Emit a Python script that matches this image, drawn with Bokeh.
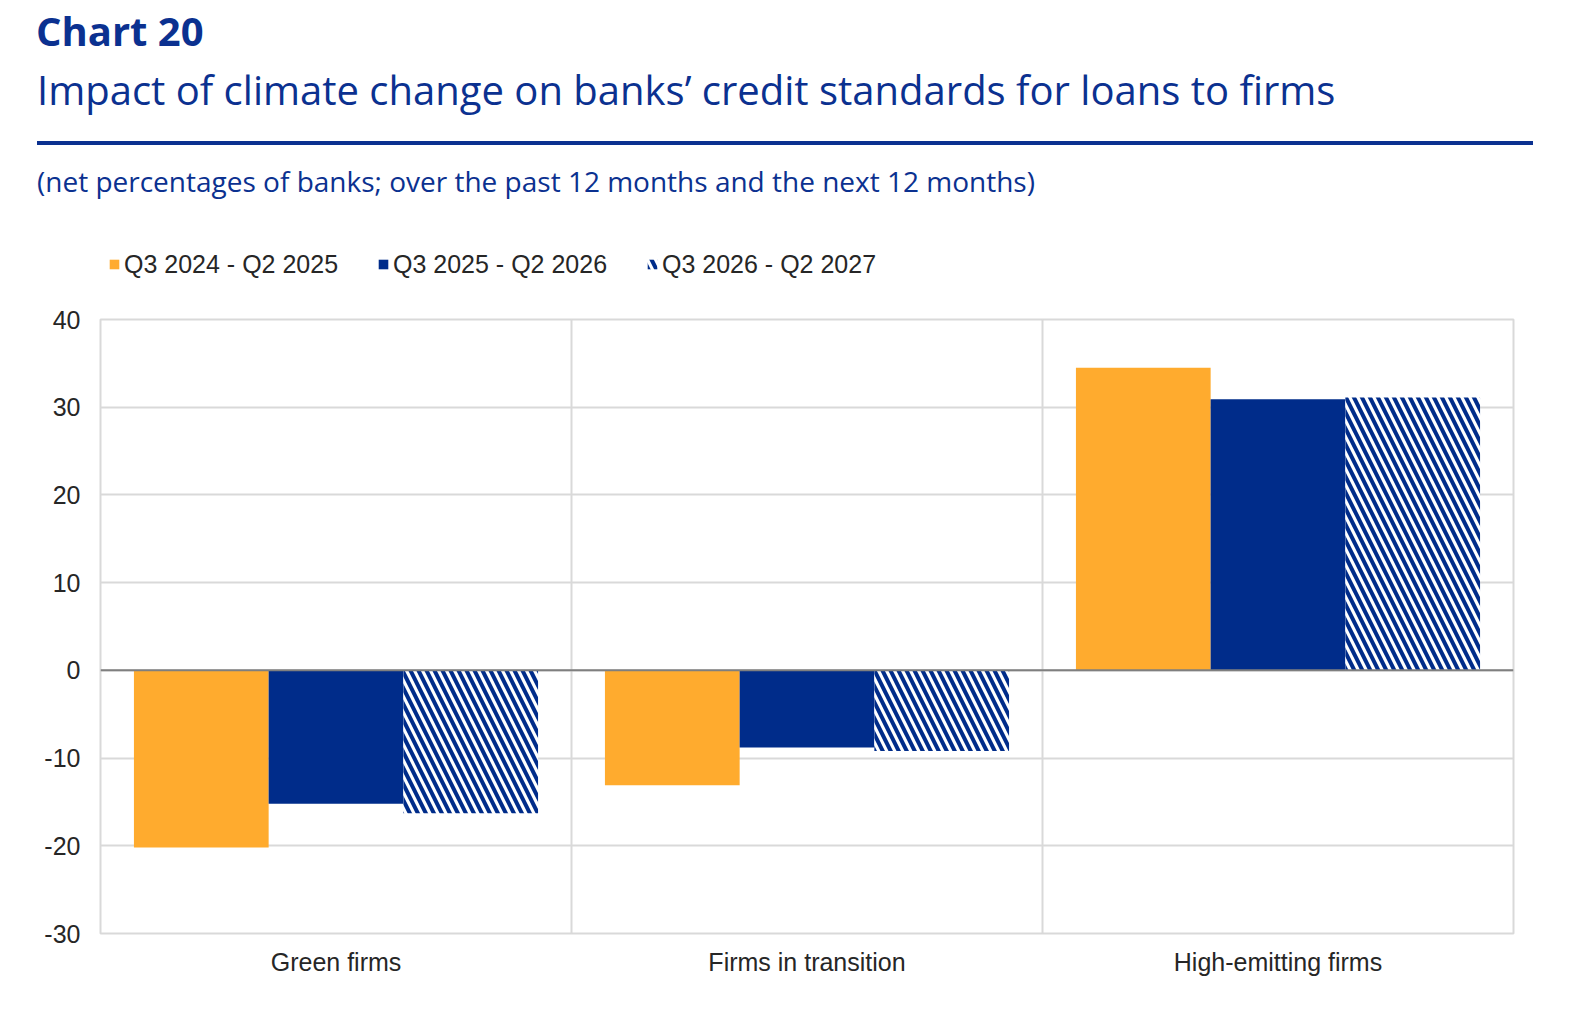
from bokeh.plotting import figure
from bokeh.models import (ColumnDataSource, Span, Legend, LegendItem,
                          FixedTicker, Div, Range1d, PrintfTickFormatter)
from bokeh.transform import dodge
from bokeh.layouts import column
from bokeh.embed import file_html
from bokeh.resources import INLINE

categories = ["Green firms", "Firms in transition", "High-emitting firms"]
series_names = ["Q3 2024 - Q2 2025", "Q3 2025 - Q2 2026", "Q3 2026 - Q2 2027"]
s2024 = [-20.2, -13.1, 34.5]
s2025 = [-15.2, -8.8, 30.9]
s2026 = [-16.3, -9.2, 31.1]
y_ticks = [-30, -20, -10, 0, 10, 20, 30, 40]

ORANGE = "#FFAB2E"
BLUE = "#002C8A"
TEXT_BLUE = "#0B3190"
GRID = "#D9D9D9"
LABEL = "#262626"
HATCH = dict(hatch_pattern="\\", hatch_color=BLUE, hatch_scale=16, hatch_weight=4)

idx = list(range(len(categories)))
src = ColumnDataSource(dict(idx=idx, cat=categories, a=s2024, b=s2025, c=s2026))

# ---- header (title, subtitle, rule, unit note)
HEADER_H = 201
header = Div(width=1554, height=HEADER_H, text=f"""
<div style="position:relative;width:1554px;height:{HEADER_H}px;font-family:'Open Sans';color:{TEXT_BLUE};">
  <div style="position:absolute;left:31px;top:6px;font-size:40px;font-weight:bold;line-height:1;white-space:nowrap;">Chart 20</div>
  <div style="position:absolute;left:32px;top:65px;font-size:40px;line-height:1;white-space:nowrap;">Impact of climate change on banks’ credit standards for loans to firms</div>
  <div style="position:absolute;left:32px;top:136px;width:1496px;height:4px;background:{TEXT_BLUE};"></div>
  <div style="position:absolute;left:32px;top:162px;font-size:28px;line-height:1;white-space:nowrap;">(net percentages of banks; over the past 12 months and the next 12 months)</div>
</div>
""")

# ---- legend strip (proxy glyphs with no visible data, used only for the legend icons)
LEG_H = 80
lf = figure(width=1554, height=LEG_H, x_range=Range1d(0, 1), y_range=Range1d(0, 1),
            x_axis_type=None, y_axis_type=None, output_backend="svg", toolbar_location=None,
            min_border=0, outline_line_color=None)
proxy = ColumnDataSource(dict(x=[float("nan")], top=[float("nan")]))
l1 = lf.vbar(x="x", top="top", width=0.1, source=proxy, fill_color=ORANGE, line_color=None)
l2 = lf.vbar(x="x", top="top", width=0.1, source=proxy, fill_color=BLUE, line_color=None)
l3 = lf.vbar(x="x", top="top", width=0.1, source=proxy, fill_color="white", line_color=None, **HATCH)
legend = Legend(items=[LegendItem(label=series_names[0], renderers=[l1]),
                       LegendItem(label=series_names[1], renderers=[l2]),
                       LegendItem(label=series_names[2], renderers=[l3])],
                orientation="horizontal", location=(8, 12),
                glyph_width=12, glyph_height=12, label_standoff=4, spacing=33,
                label_width=220, label_height=30,
                padding=0, margin=0, border_line_color=None, background_fill_alpha=0,
                label_text_font="Liberation Sans", label_text_font_size="25px",
                label_text_color=LABEL)
lf.add_layout(legend, "center")

# ---- main chart
p = figure(width=1554, height=1000 - (HEADER_H + 10) - LEG_H,
           x_range=Range1d(-0.5, len(categories) - 0.5),
           y_range=Range1d(-30, 40), output_backend="svg", toolbar_location=None,
           min_border_left=100, min_border_right=41, min_border_top=28, min_border_bottom=67)

w = 0.286
p.vbar(x=dodge("idx", -w), top="a", bottom=0, width=w, source=src,
       fill_color=ORANGE, line_color=None)
p.vbar(x=dodge("idx", 0), top="b", bottom=0, width=w, source=src,
       fill_color=BLUE, line_color=None)
p.vbar(x=dodge("idx", w), top="c", bottom=0, width=w, source=src,
       fill_color="white", line_color=None, **HATCH)

p.add_layout(Span(location=0, dimension="width", line_color="#7F7F7F", line_width=2))

p.xgrid.ticker = FixedTicker(ticks=[i + 0.5 for i in idx[:-1]])
p.xgrid.grid_line_color = GRID
p.xgrid.grid_line_width = 2
p.ygrid.ticker = FixedTicker(ticks=y_ticks)
p.ygrid.grid_line_color = GRID
p.ygrid.grid_line_width = 2
p.outline_line_color = GRID
p.outline_line_width = 2

p.xaxis.ticker = FixedTicker(ticks=idx)
p.xaxis.major_label_overrides = {i: c for i, c in zip(idx, categories)}
p.yaxis.ticker = FixedTicker(ticks=y_ticks)
p.yaxis.formatter = PrintfTickFormatter(format="%d")
for ax in (p.xaxis[0], p.yaxis[0]):
    ax.axis_line_color = None
    ax.major_tick_line_color = None
    ax.minor_tick_line_color = None
    ax.major_tick_out = 0
    ax.major_tick_in = 0
    ax.minor_tick_out = 0
    ax.minor_tick_in = 0
    ax.major_label_text_font = "Liberation Sans"
    ax.major_label_text_font_size = "25px"
    ax.major_label_text_color = LABEL
p.yaxis.major_label_standoff = 20
p.xaxis.major_label_standoff = 14

layout = column(header, lf, p, spacing=0)
open("out.html", "w").write(file_html(layout, INLINE))
